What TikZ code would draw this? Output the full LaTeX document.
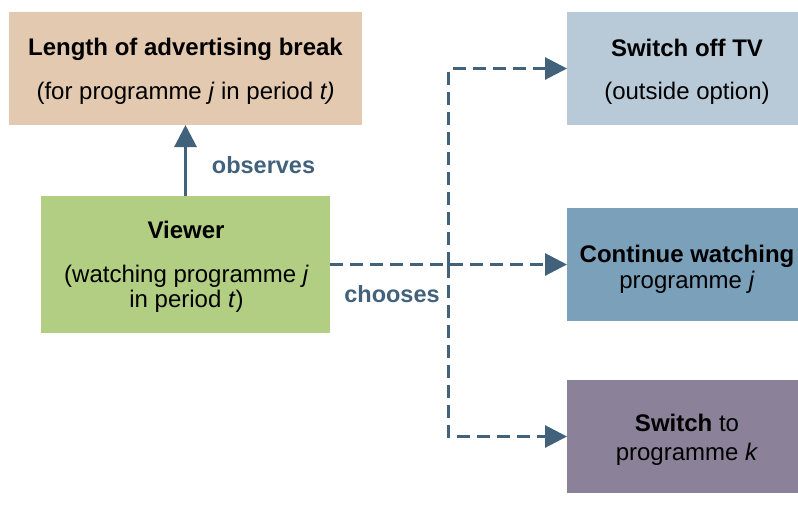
\documentclass[tikz,border=0pt]{standalone}
\usepackage{fontspec}
\setmainfont{Liberation Sans}
\usetikzlibrary{arrows.meta}
\definecolor{linkc}{HTML}{41627A}
\definecolor{tanbox}{HTML}{E2C9AF}
\definecolor{greenbox}{HTML}{B2CE82}
\definecolor{paleblue}{HTML}{B8CAD8}
\definecolor{midblue}{HTML}{7BA0BA}
\definecolor{purplebox}{HTML}{8B8199}
\begin{document}
\begin{tikzpicture}[x=1pt,y=-1pt,
  panel/.style={inner sep=0pt, outer sep=0pt, anchor=north west, draw=none},
  txt/.style={inner sep=0pt, anchor=base, font=\fontsize{24}{28}\selectfont, text=black},
  lbl/.style={inner sep=0pt, anchor=base, font=\fontsize{23.5}{28}\selectfont\bfseries, text=linkc},
  solidlink/.style={draw=linkc, line width=3pt, -{Triangle[length=22pt,width=22pt]}},
  dashlink/.style={draw=linkc, line width=3pt, dash pattern=on 13pt off 7pt, -{Triangle[length=22pt,width=22pt]}},
]
\useasboundingbox (0,0) rectangle (798,504);

% boxes
\node[panel, fill=tanbox, minimum width=353pt, minimum height=113pt] (len) at (9,12) {};
\node[panel, fill=greenbox, minimum width=289pt, minimum height=137pt] (view) at (41,196) {};
\node[panel, fill=paleblue, minimum width=231pt, minimum height=113pt] (off) at (567,12) {};
\node[panel, fill=midblue, minimum width=231pt, minimum height=113pt] (cont) at (567,208) {};
\node[panel, fill=purplebox, minimum width=231pt, minimum height=113pt] (swk) at (567,380) {};

% box texts
\node[txt] (lenA) at (185.5,55) {\textbf{Length of advertising break}};
\node[txt] (lenB) at (185.5,99) {(for programme \textit{j} in period \textit{t)}};
\node[txt] (viewA) at (186,238) {\textbf{Viewer}};
\node[txt] (viewB) at (186.5,282) {(watching programme \textit{j}};
\node[txt] (viewC) at (186.5,307) {in period \textit{t})};
\node[txt] (offA) at (687,56) {\textbf{Switch off TV}};
\node[txt] (offB) at (687,99) {(outside option)};
\node[txt] (contA) at (687,262) {\textbf{Continue watching}};
\node[txt] (contB) at (687,288) {programme \textit{j}};
\node[txt] (swkA) at (687,431) {\textbf{Switch} to};
\node[txt] (swkB) at (687,460) {programme \textit{k}};

% connector labels
\node[lbl] (obs) at (263.5,173) {observes};
\node[lbl] (cho) at (392,302) {chooses};

% connectors
\draw[solidlink] (view.north) -- (len.south);
\coordinate (fork) at (448.5,264.5);
\draw[dashlink] (view.east |- fork) -- (cont.west);
\draw[dashlink] (fork) |- (off.west);
\draw[dashlink] (fork) |- (swk.west);
\end{tikzpicture}
\end{document}
